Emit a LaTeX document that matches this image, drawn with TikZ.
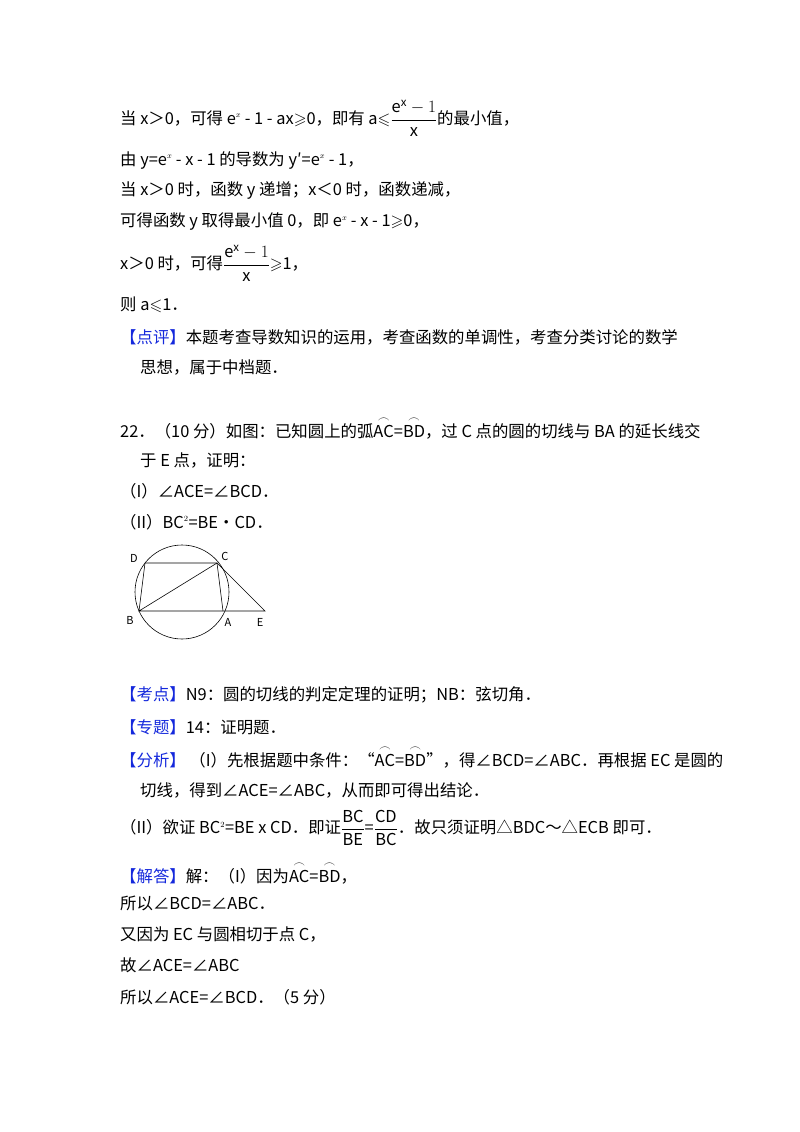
\documentclass[tikz,border=0pt]{standalone}
\usepackage{fontspec}
\usepackage{amsmath,amssymb}
\setmainfont{Noto Sans CJK SC}
\definecolor{bl}{RGB}{20,40,220}
\newcommand{\arcx}[1]{$\stackrel{\frown}{\mathrm{#1}}$}
\newcommand{\bk}[1]{{\color{bl}【#1】}}
\newcommand{\mygeq}{$\geqslant$}
\newcommand{\myleq}{$\leqslant$}
\begin{document}
\begin{tikzpicture}[x=1pt,y=-1pt,
  t/.style={anchor=west,inner sep=0pt,font=\fontsize{16.4}{19}\selectfont},
  lb/.style={inner sep=0pt,font=\fontsize{11}{12}\rmfamily},
  ln/.style={line width=0.6pt}]
\useasboundingbox (0,0) rectangle (800,1132);
\node[t] (l1) at (120,118) {当 x＞0，可得 e$^{\scriptscriptstyle x}$ - 1 - ax\mygeq0，即有 a\myleq$\dfrac{\mathrm{e}^{\mathrm{x}}-1}{\mathrm{x}}$的最小值，};
\node[t] (l2) at (120,160) {由 y=e$^{\scriptscriptstyle x}$ - x - 1 的导数为 y′=e$^{\scriptscriptstyle x}$ - 1，};
\node[t] (l3) at (120,191) {当 x＞0 时，函数 y 递增；x＜0 时，函数递减，};
\node[t] (l4) at (120,222) {可得函数 y 取得最小值 0，即 e$^{\scriptscriptstyle x}$ - x - 1\mygeq0，};
\node[t] (l5) at (120,263) {x＞0 时，可得$\dfrac{\mathrm{e}^{\mathrm{x}}-1}{\mathrm{x}}$\mygeq1，};
\node[t] (l6) at (120,305) {则 a\myleq1．};
\node[t] (l7) at (120,337) {\bk{点评}本题考查导数知识的运用，考查函数的单调性，考查分类讨论的数学};
\node[t] (l8) at (140,367) {思想，属于中档题．};
\node[t] (l9) at (120,428) {22．（10 分）如图：已知圆上的弧\arcx{AC}=\arcx{BD}，过 C 点的圆的切线与 BA 的延长线交};
\node[t] (l10) at (140,460) {于 E 点，证明：};
\node[t] (l11) at (120,491) {（I）∠ACE=∠BCD．};
\node[t] (l12) at (120,522) {（II）BC$^{\scriptscriptstyle 2}$=BE•CD．};
% figure
\coordinate (O) at (182,592);
\coordinate (D) at (145,563);
\coordinate (C) at (217,563);
\coordinate (B) at (139,611);
\coordinate (A) at (223,611);
\coordinate (E) at (265,611);
\draw[ln] (O) circle (47);
\draw[ln] (D) -- (C) -- (A);
\draw[ln] (D) -- (B) -- (C) -- (E) -- (B);
\node[lb] (nD) at (134,558) {D};
\node[lb] (nC) at (225,556) {C};
\node[lb] (nB) at (130,620) {B};
\node[lb] (nA) at (228,622) {A};
\node[lb] (nE) at (260,622) {E};
\node[t] (m1) at (120,695) {\bk{考点}N9：圆的切线的判定定理的证明；NB：弦切角．};
\node[t] (m2) at (120,727) {\bk{专题}14：证明题．};
\node[t] (m3) at (120,757) {\bk{分析} （I）先根据题中条件：“\arcx{AC}=\arcx{BD}”，得∠BCD=∠ABC．再根据 EC 是圆的};
\node[t] (m4) at (140,790) {切线，得到∠ACE=∠ABC，从而即可得出结论．};
\node[t] (m5) at (120,828) {（II）欲证 BC$^{\scriptscriptstyle 2}$=BE x CD．即证$\dfrac{\mathrm{BC}}{\mathrm{BE}}$=$\dfrac{\mathrm{CD}}{\mathrm{BC}}$．故只须证明△BDC～△ECB 即可．};
\node[t] (m6) at (120,873) {\bk{解答}解：（I）因为\arcx{AC}=\arcx{BD}，};
\node[t] (m7) at (120,903) {所以∠BCD=∠ABC．};
\node[t] (m8) at (120,934) {又因为 EC 与圆相切于点 C，};
\node[t] (m9) at (120,965) {故∠ACE=∠ABC};
\node[t] (m10) at (120,997) {所以∠ACE=∠BCD．（5 分）};
\end{tikzpicture}
\end{document}
